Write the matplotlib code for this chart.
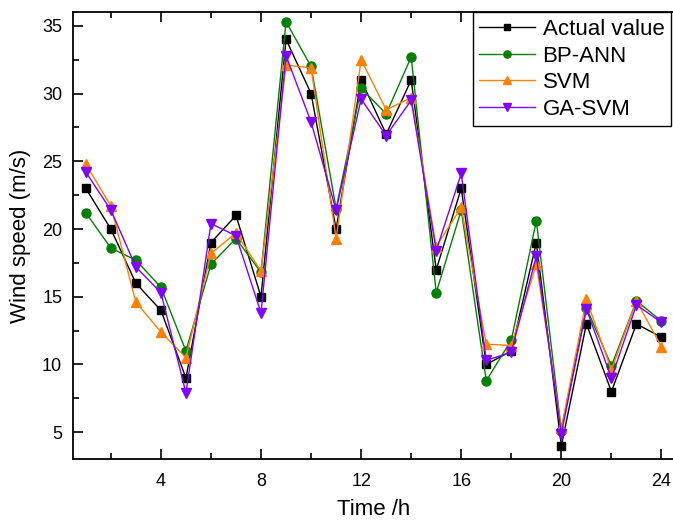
import matplotlib
matplotlib.use("Agg")
import matplotlib.pyplot as plt
from matplotlib.ticker import MultipleLocator

plt.rcParams['font.family'] = ['Liberation Sans', 'DejaVu Sans']

hours = list(range(1, 25))
actual = [23, 20, 16, 14, 9, 19, 21, 15, 34, 30, 20, 31, 27, 31, 17, 23, 10, 11, 19, 4, 13, 8, 13, 12]
bp_ann = [21.2, 18.6, 17.7, 15.7, 11.0, 17.4, 19.3, 16.8, 35.3, 32.0, 21.5, 30.4, 28.5, 32.7,
          15.3, 21.4, 8.8, 11.8, 20.6, 5.1, 14.2, 9.9, 14.7, 13.2]
svm = [24.8, 21.7, 14.6, 12.4, 10.5, 18.2, 19.7, 16.9, 32.1, 31.9, 19.3, 32.5, 28.8, 29.7,
       18.7, 21.6, 11.5, 11.4, 17.4, 5.3, 14.8, 9.6, 14.7, 11.3]
ga_svm = [24.2, 21.4, 17.2, 15.3, 7.9, 20.4, 19.5, 13.8, 32.8, 27.9, 21.4, 29.6, 26.9, 29.5,
          18.4, 24.1, 10.3, 10.9, 18.0, 4.9, 14.1, 9.0, 14.4, 13.1]

fig = plt.figure(figsize=(6.73, 5.22), dpi=100)
ax = fig.add_axes([73.3 / 673, 1 - 459.3 / 522, (674 - 73.3) / 673, (459.3 - 12.3) / 522])

ax.plot(hours, actual, color='black', marker='s', markersize=6, lw=1, label='Actual value')
ax.plot(hours, bp_ann, color='#008000', marker='o', markersize=6.5, lw=1, label='BP-ANN')
ax.plot(hours, svm, color='#FF8000', marker='^', markersize=7.5, lw=1, label='SVM')
ax.plot(hours, ga_svm, color='#8000FF', marker='v', markersize=7.5, lw=1, label='GA-SVM')

ax.set_xlim(0.5, 24.5)
ax.set_ylim(3, 36)
ax.xaxis.set_major_locator(MultipleLocator(4))
ax.xaxis.set_minor_locator(MultipleLocator(2))
ax.yaxis.set_major_locator(MultipleLocator(5))
ax.yaxis.set_minor_locator(MultipleLocator(2.5))

for s in ['left', 'bottom', 'top']:
    ax.spines[s].set_linewidth(1.3)
ax.spines['right'].set_visible(False)

ax.tick_params(which='both', direction='in', top=True, right=False, width=1.2, labelsize=13)
ax.tick_params(which='major', length=7)
ax.tick_params(which='minor', length=4)
ax.tick_params(axis='x', which='both', top=True)
ax.tick_params(axis='x', which='major', pad=10)
ax.tick_params(axis='y', which='major', pad=8)

ax.set_xlabel('Time /h', fontsize=16, labelpad=6)
ax.set_ylabel('Wind speed (m/s)', fontsize=16, labelpad=8)

leg = ax.legend(loc='upper right', bbox_to_anchor=(671 / 673, 1 - 12.3 / 522), bbox_transform=fig.transFigure,
                fontsize=16, frameon=True, fancybox=False, shadow=False, handlelength=2.5,
                handletextpad=0.35, borderpad=0.3, labelspacing=0.25, markerscale=0.8,
                borderaxespad=0)
leg.get_frame().set_edgecolor('black')
leg.get_frame().set_linewidth(1.0)
leg.get_frame().set_alpha(1)

fig.savefig('out.png', dpi=100)
